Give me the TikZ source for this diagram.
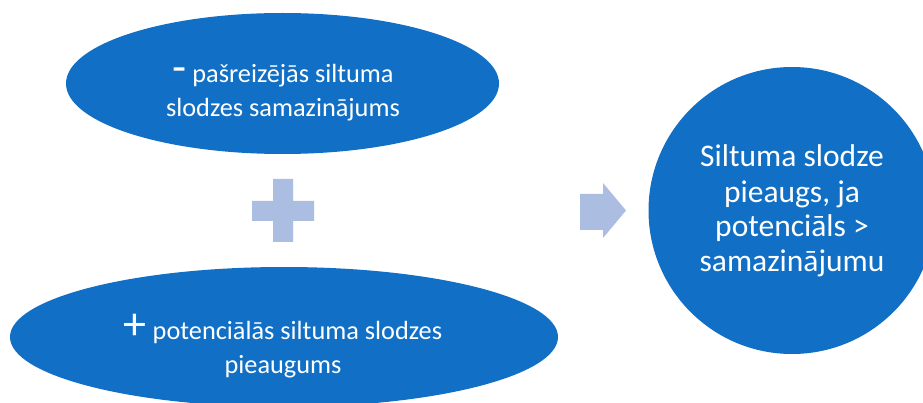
\documentclass[tikz,border=0pt]{standalone}
\usepackage{fontspec}
\setmainfont{Carlito}
\usetikzlibrary{shapes.geometric}
\definecolor{blobblue}{HTML}{1170C5}
\definecolor{lightshape}{HTML}{ABBDE0}
\begin{document}
\begin{tikzpicture}[x=1pt,y=-1pt,
  blob/.style={fill=blobblue, draw=none, inner sep=0pt, outer sep=0pt},
  lbl/.style={text=white, align=center, inner sep=0pt, anchor=base},
  small/.style={lbl, font=\fontsize{26.3}{34}\selectfont},
  big/.style={lbl, font=\fontsize{31.5}{35}\selectfont},
  op/.style={fill=lightshape, draw=none}]
\useasboundingbox (0,0) rectangle (923,403);
\clip (0,0) rectangle (923,403);
\fill[white] (0,0) rectangle (923,403);
% shapes
\node[blob, ellipse, minimum width=433pt, minimum height=141pt] (top) at (282.5,83.5) {};
\node[blob, ellipse, minimum width=548pt, minimum height=140pt] (bottom) at (284,337) {};
\node[blob, circle, minimum size=287pt] (res) at (792,210.5) {};
% texts (base anchor = last line baseline)
\node[small] (toptext) at (283,117) {{\fontsize{46}{34}\selectfont -} pašreizējās siltuma\\slodzes samazinājums};
\node[small] (bottomtext) at (283,373) {{\fontsize{46}{34}\selectfont +} potenciālās siltuma slodzes\\pieaugums};
\node[big] (restext) at (792,272) {Siltuma slodze\\pieaugs, ja\\potenciāls >\\samazinājumu};
% plus sign
\fill[op] (273,179) -- (293,179) -- (293,201) -- (314,201) -- (314,221) -- (293,221)
  -- (293,242) -- (273,242) -- (273,221) -- (252,221) -- (252,201) -- (273,201) -- cycle;
% arrow
\fill[op] (580,194) -- (603,194) -- (603,183) -- (626,210.5) -- (603,238) -- (603,230)
  -- (580,230) -- cycle;
\end{tikzpicture}
\end{document}
